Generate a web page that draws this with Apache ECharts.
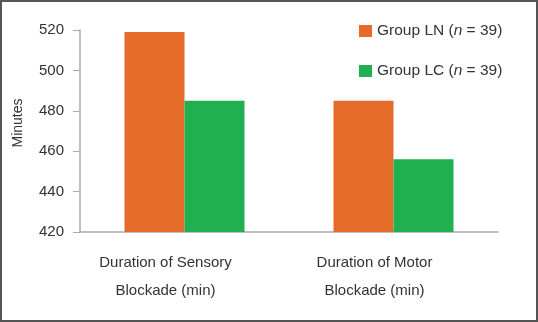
<!DOCTYPE html>
<html lang="en">
<head>
    <meta charset="UTF-8">
    <title>Blockade duration</title>
    <script src="https://cdn.jsdelivr.net/npm/echarts@6/dist/echarts.min.js"></script>
    <style>
        html, body { margin: 0; padding: 0; background: #fff; }
        #chart { width: 538px; height: 322px; }
    </style>
</head>
<body>
    <div id="chart"></div>
    <script>
        var categories = ['Duration of Sensory\nBlockade (min)', 'Duration of Motor\nBlockade (min)'];
        var groupLN = [519, 485];
        var groupLC = [485, 456];
        var yTicks = { min: 420, max: 520, step: 20 };

        var font = 'Liberation Sans, Arial, sans-serif';
        var chart = echarts.init(document.getElementById('chart'));

        var option = {
            animation: false,
            textStyle: { fontFamily: font },
            graphic: [{
                type: 'rect',
                silent: true,
                shape: { x: 1, y: 1, width: 536, height: 320 },
                style: { fill: 'none', stroke: '#555', lineWidth: 2 }
            }],
            grid: { left: 80, right: 40, top: 30, bottom: 90 },
            legend: {
                orient: 'vertical',
                left: 359,
                top: 23,
                padding: 0,
                itemWidth: 13,
                itemHeight: 12,
                itemGap: 24,
                icon: 'rect',
                formatter: function(name) {
                    return '{a|' + name + ' (}{i|n}{a| = 39)}';
                },
                textStyle: {
                    color: '#333',
                    rich: {
                        a: { fontSize: 15.5, fontFamily: font, color: '#333' },
                        i: { fontSize: 15.5, fontFamily: font, color: '#333', fontStyle: 'italic' }
                    }
                }
            },
            xAxis: {
                type: 'category',
                data: categories,
                axisLine: { lineStyle: { color: '#aaa', width: 1.5 } },
                axisTick: { length: 6, lineStyle: { color: '#aaa' } },
                axisLabel: {
                    color: '#333',
                    fontSize: 15,
                    lineHeight: 28,
                    margin: 17,
                    padding: [0, 38, 0, 0]
                }
            },
            yAxis: {
                type: 'value',
                min: yTicks.min,
                max: yTicks.max,
                interval: yTicks.step,
                name: 'Minutes',
                nameLocation: 'middle',
                nameRotate: 90,
                nameGap: 55,
                nameTextStyle: { color: '#333', fontSize: 14, padding: [0, 0, 0, 16] },
                axisLine: { show: true, lineStyle: { color: '#aaa', width: 1.5 } },
                axisTick: { show: true, length: 7, lineStyle: { color: '#aaa' } },
                axisLabel: { color: '#333', fontSize: 15, margin: 16 },
                splitLine: { show: false }
            },
            series: [{
                name: 'Group LN',
                type: 'bar',
                data: groupLN,
                barWidth: 60,
                barGap: '0%',
                itemStyle: { color: '#e46c28' }
            }, {
                name: 'Group LC',
                type: 'bar',
                data: groupLC,
                barWidth: 60,
                itemStyle: { color: '#20b050' }
            }]
        };
        chart.setOption(option);
    </script>
</body>
</html>
